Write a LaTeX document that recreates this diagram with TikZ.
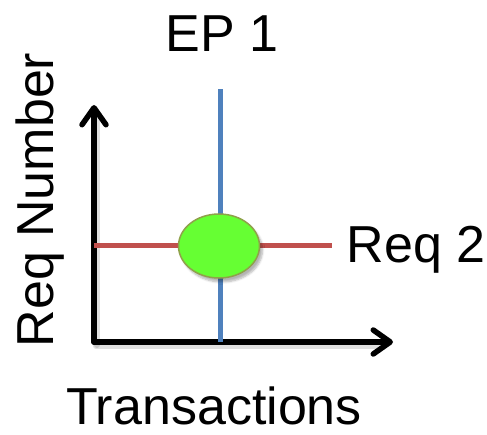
\documentclass[tikz,border=0pt]{standalone}
\usepackage{fontspec}
\setmainfont{Liberation Sans}
\usetikzlibrary{arrows.meta,shapes.geometric,shadows.blur}

\definecolor{epblue}{HTML}{4F81BD}
\definecolor{reqred}{HTML}{C0504D}
\definecolor{hitgreen}{HTML}{66FF33}
\definecolor{hitrim}{HTML}{8FA14A}

\begin{document}
\begin{tikzpicture}[x=1pt,y=1pt,
  axis/.style={line width=5.5pt,line cap=round,
    -{Straight Barb[length=17pt,width=24pt,round]}},
  axisshadow/.style={line width=6pt,draw=black,opacity=0.12,line cap=round},
  epline/.style={line width=5pt,draw=epblue},
  reqline/.style={line width=5pt,draw=reqred},
  hit/.style={ellipse,fill=hitgreen,draw=hitrim,line width=1.5pt,
    minimum width=81pt,minimum height=64pt,inner sep=0pt,
    blur shadow={shadow xshift=3pt,shadow yshift=-4pt,shadow opacity=30,shadow blur steps=6}},
  label/.style={font=\fontsize{52}{60}\selectfont,inner sep=0pt,anchor=base}]
  \useasboundingbox (0,0) rectangle (487,434);

  % axes
  \coordinate (O) at (94,92);
  \coordinate (ytop) at (94,329);
  \coordinate (xend) at (393,92);
  \draw[axisshadow] ([xshift=2pt,yshift=-4pt]O) -- ([xshift=-10pt,yshift=-4pt]xend);
  \draw[axisshadow] ([xshift=3pt,yshift=-3pt]O) -- ([xshift=3pt,yshift=-10pt]ytop);
  \draw[axis] (O) -- (ytop);
  \draw[axis] (O) -- (xend);

  % endpoint and requirement lines
  \coordinate (eptop) at (220,345);
  \coordinate (epbot) at (220,92);
  \coordinate (reqstart) at (94,188);
  \coordinate (reqend) at (332,188);
  \draw[epline] (epbot) -- (eptop);
  \draw[reqline] (reqstart) -- (reqend);

  % intersection
  \node[hit] (hitpt) at (219,188) {};

  % labels
  \node[label] (ep) at (222,382) {EP 1};
  \node[label] (req) at (416,171) {Req 2};
  \node[label] (xlab) at (214,10) {Transactions};
  \node[label,rotate=90] (ylab) at (53,234) {Req Number};
\end{tikzpicture}
\end{document}
